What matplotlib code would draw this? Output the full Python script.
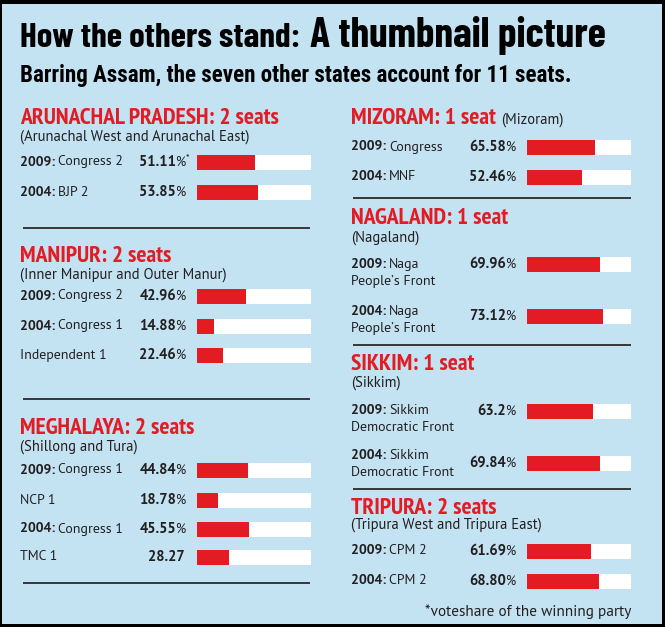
import re
import matplotlib
matplotlib.use('Agg')
import matplotlib.pyplot as plt
from matplotlib.patches import Rectangle

BG = '#c3e3f3'
RED = '#e31b23'
INK = '#231f20'
TITLE = ['Barlow Condensed', 'DejaVu Sans']
SUB = ['Roboto Condensed', 'DejaVu Sans']
HEAD = ['PT Sans Narrow', 'DejaVu Sans']
BODY = ['PT Sans', 'DejaVu Sans']

title_a = 'How the others stand:'
title_b = 'A thumbnail picture'
subtitle = 'Barring Assam, the seven other states account for 11 seats.'
footnote = '*voteshare of the winning party'

states = ['ARUNACHAL PRADESH', 'MANIPUR', 'MEGHALAYA', 'MIZORAM',
          'NAGALAND', 'SIKKIM', 'TRIPURA']
seats = ['2 seats', '2 seats', '2 seats', '1 seat', '1 seat', '1 seat', '2 seats']
areas = ['(Arunachal West and Arunachal East)', '(Inner Manipur and Outer Manur)',
         '(Shillong and Tura)', '(Mizoram)', '(Nagaland)', '(Sikkim)',
         '(Tripura West and Tripura East)']
years = [['2009:', '2004:'],
         ['2009:', '2004:', ''],
         ['2009:', '', '2004:', ''],
         ['2009:', '2004:'],
         ['2009:', '2004:'],
         ['2009:', '2004:'],
         ['2009:', '2004:']]
parties = [['Congress 2', 'BJP 2'],
           ['Congress 2', 'Congress 1', 'Independent 1'],
           ['Congress 1', 'NCP 1', 'Congress 1', 'TMC 1'],
           ['Congress', 'MNF'],
           ['Naga\nPeople\u2019s Front', 'Naga\nPeople\u2019s Front'],
           ['Sikkim\nDemocratic Front', 'Sikkim\nDemocratic Front'],
           ['CPM 2', 'CPM 2']]
shares = [[51.11, 53.85],
          [42.96, 14.88, 22.46],
          [44.84, 18.78, 45.55, 28.27],
          [65.58, 52.46],
          [69.96, 73.12],
          [63.2, 69.84],
          [61.69, 68.80]]
share_labels = [['51.11%*', '53.85%'],
                ['42.96%', '14.88%', '22.46%'],
                ['44.84%', '18.78%', '45.55%', '28.27'],
                ['65.58%', '52.46%'],
                ['69.96%', '73.12%'],
                ['63.2%', '69.84%'],
                ['61.69%', '68.80%']]

# layout in pixels: column, header baseline, sub-line centre, bar centres, label centres
column = [0, 0, 0, 1, 1, 1, 1]
head_y = [124, 262, 434, 124, 224, 370, 514]
area_y = [137, 275, 447, 120, 238, 383, 525]
bar_y = [[162, 192], [296, 326, 355], [470, 500, 529, 557], [147, 177],
         [264, 316], [411, 463], [551, 581]]
label_y = [[162, 192], [296, 326, 355], [470, 500, 529, 557], [147, 177],
           [273, 320], [419, 464], [551, 581]]
col_x = [20, 351]
val_x = [185, 515]
bar_left = [197, 527]
bar_w = [114, 104]
rules = [[228, 399, 583], [198, 345, 489]]
rule_x = [(23, 310), (353, 631)]

W, H = 665, 627
fig = plt.figure(figsize=(W / 100, H / 100), dpi=100, facecolor='black')
ax = fig.add_axes([0, 0, 1, 1])
ax.set_xlim(0, W)
ax.set_ylim(H, 0)
ax.axis('off')
ax.add_patch(Rectangle((2, 4), W - 5, H - 7, facecolor=BG, edgecolor='none'))
rend = fig.canvas.get_renderer()


def width(t):
    return t.get_window_extent(rend).width


def fit(t, target):
    # rescale font so the text spans the target width
    t.set_fontsize(t.get_fontsize() * target / width(t))
    return t


# title
fit(ax.text(20, 47, title_a, family=TITLE, weight='bold', size=26, color='black',
            va='baseline'), 280)
fit(ax.text(310, 47, title_b, family=TITLE, weight='bold', size=28, color='black',
            va='baseline'), 297)
fit(ax.text(20, 82, subtitle, family=SUB, weight='bold', size=15, color='black',
            va='baseline'), 552)

# bar axes, one per column, sharing pixel y with the main axes
bax = []
for c in range(2):
    b = fig.add_axes([bar_left[c] / W, 0, bar_w[c] / W, 1])
    b.set_xlim(0, 100)
    b.set_ylim(H, 0)
    b.axis('off')
    bax.append(b)

for i, st in enumerate(states):
    c = column[i]
    x0 = col_x[c]
    h = ax.text(x0, head_y[i], st + ': ' + seats[i], family=HEAD, weight='bold',
                size=17, color=RED, va='baseline')
    if st == 'MIZORAM':
        ax.text(x0 + width(h) + 5, head_y[i], areas[i], family=BODY, size=10.5,
                color=INK, va='baseline')
    else:
        ax.text(x0, area_y[i], areas[i], family=BODY, size=10.5, color=INK,
                va='center')

    for j, v in enumerate(shares[i]):
        y = bar_y[i][j]
        ly = label_y[i][j]
        lines = parties[i][j].split('\n')
        top = ly if len(lines) == 1 else ly - 8.5
        xx = x0
        if years[i][j]:
            yt = ax.text(xx, top, years[i][j], family=BODY, weight='bold', size=10,
                         color=INK, va='center')
            xx += width(yt) + 3
        ax.text(xx, top, lines[0], family=BODY, size=10, color=INK, va='center')
        if len(lines) > 1:
            ax.text(x0, ly + 8.5, lines[1], family=BODY, size=10, color=INK,
                    va='center')

        m = re.match(r'([\d.]+)(.*)', share_labels[i][j])
        num, suf = m.group(1), m.group(2)
        xr = val_x[c]
        if suf.startswith('%'):
            p = ax.text(xr, y, '%', family=BODY, size=9.5, color=INK, va='center',
                        ha='right')
            if suf[1:]:
                ax.text(xr + 1, y - 3, suf[1:], family=BODY, size=7, color=INK,
                        va='center', ha='left')
            xr -= width(p) - 1.5
        ax.text(xr, y, num, family=BODY, weight='bold', size=10.5, color=INK,
                va='center', ha='right')

        bax[c].barh(y, 100, height=15, color='white', linewidth=0)
        bax[c].barh(y, v, height=15, color=RED, linewidth=0)

for c in range(2):
    for y in rules[c]:
        ax.plot(rule_x[c], [y, y], color='#2a2a2a', lw=1.3, solid_capstyle='butt')

ax.text(631, 612, footnote, family=BODY, size=11, color=INK, va='center', ha='right')

fig.savefig('out.png', dpi=100, facecolor='black')
